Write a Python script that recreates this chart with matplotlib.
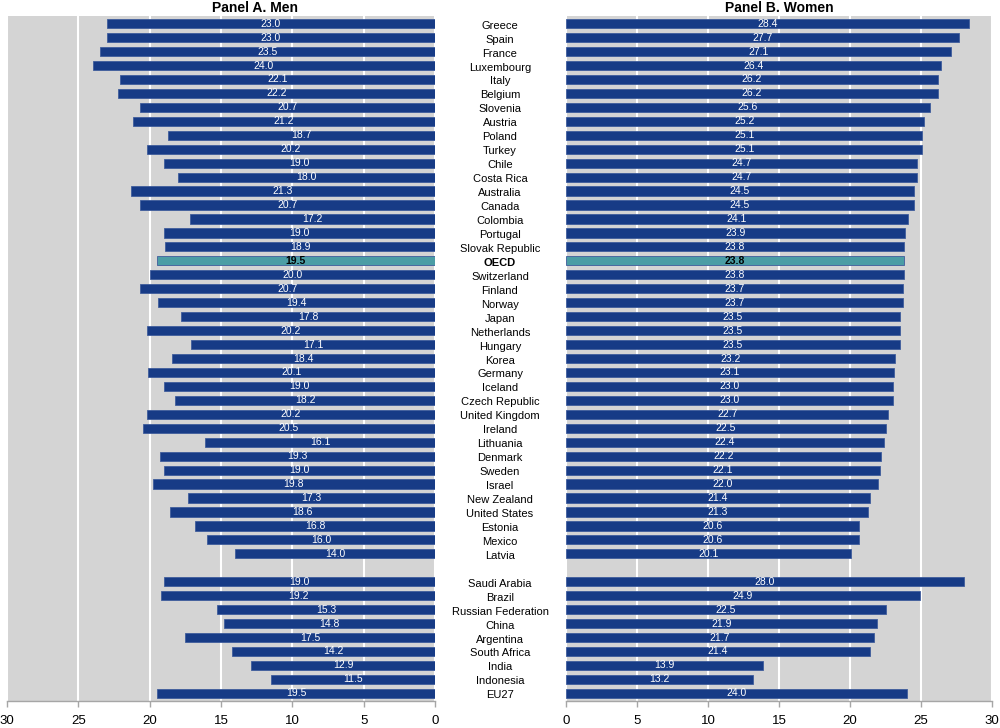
import matplotlib
matplotlib.use('Agg')
import matplotlib.pyplot as plt
from matplotlib.transforms import blended_transform_factory, ScaledTranslation

countries = ["Greece", "Spain", "France", "Luxembourg", "Italy", "Belgium", "Slovenia",
             "Austria", "Poland", "Turkey", "Chile", "Costa Rica", "Australia", "Canada",
             "Colombia", "Portugal", "Slovak Republic", "OECD", "Switzerland", "Finland",
             "Norway", "Japan", "Netherlands", "Hungary", "Korea", "Germany", "Iceland",
             "Czech Republic", "United Kingdom", "Ireland", "Lithuania", "Denmark", "Sweden",
             "Israel", "New Zealand", "United States", "Estonia", "Mexico", "Latvia",
             "Saudi Arabia", "Brazil", "Russian Federation", "China", "Argentina",
             "South Africa", "India", "Indonesia", "EU27"]
men = [23.0, 23.0, 23.5, 24.0, 22.1, 22.2, 20.7, 21.2, 18.7, 20.2, 19.0, 18.0, 21.3, 20.7,
       17.2, 19.0, 18.9, 19.5, 20.0, 20.7, 19.4, 17.8, 20.2, 17.1, 18.4, 20.1, 19.0, 18.2,
       20.2, 20.5, 16.1, 19.3, 19.0, 19.8, 17.3, 18.6, 16.8, 16.0, 14.0,
       19.0, 19.2, 15.3, 14.8, 17.5, 14.2, 12.9, 11.5, 19.5]
women = [28.4, 27.7, 27.1, 26.4, 26.2, 26.2, 25.6, 25.2, 25.1, 25.1, 24.7, 24.7, 24.5, 24.5,
         24.1, 23.9, 23.8, 23.8, 23.8, 23.7, 23.7, 23.5, 23.5, 23.5, 23.2, 23.1, 23.0, 23.0,
         22.7, 22.5, 22.4, 22.2, 22.1, 22.0, 21.4, 21.3, 20.6, 20.6, 20.1,
         28.0, 24.9, 22.5, 21.9, 21.7, 21.4, 13.9, 13.2, 24.0]
gap_after = "Latvia"
highlight = "OECD"
ticks = [0, 5, 10, 15, 20, 25, 30]

BLUE = '#173B86'
TEAL = '#4B9DA5'
BG = '#D4D4D4'
AXC = '#A6A6A6'
narrow = ['Liberation Sans Narrow', 'Liberation Sans', 'DejaVu Sans']
plt.rcParams['font.family'] = ['Liberation Sans', 'DejaVu Sans']

gap_idx = countries.index(gap_after) + 1
ypos = [i + (1 if i >= gap_idx else 0) for i in range(len(countries))]
nrows = len(countries) + 1

fig = plt.figure(figsize=(10, 7.28), dpi=100)
H = 728.0
axL = fig.add_axes([0.007, 27 / H, 0.428, 685 / H])
axR = fig.add_axes([0.566, 27 / H, 0.426, 685 / H])

for ax, vals, xl in ((axL, men, (30, 0)), (axR, women, (0, 30))):
    ax.set_facecolor(BG)
    colors = [TEAL if c == highlight else BLUE for c in countries]
    ax.barh(ypos, vals, height=0.66, color=colors, edgecolor='#3F5C9C',
            linewidth=0.6, zorder=3)
    for y, v, c in zip(ypos, vals, countries):
        if c == highlight:
            ax.text(v / 2, y, f"{v:.1f}", ha='center', va='center', fontsize=7.5,
                    color='black', weight='bold', family=narrow, zorder=4)
        else:
            ax.text(v / 2, y, f"{v:.1f}", ha='center', va='center', fontsize=7.5,
                    color='white', family=narrow, zorder=4)
    ax.set_xlim(*xl)
    ax.set_ylim(nrows - 1 + 0.55, -0.55)
    ax.set_xticks(ticks)
    ax.set_xticklabels([str(t) for t in ticks])
    ax.set_yticks([])
    ax.grid(axis='x', color='white', linewidth=1.5, zorder=1)
    ax.set_axisbelow(True)
    for s in ('top', 'left', 'right'):
        ax.spines[s].set_visible(False)
    ax.spines['bottom'].set_color(AXC)
    ax.spines['bottom'].set_linewidth(1.0)
    ax.tick_params(axis='x', direction='out', length=4, width=1, color=AXC,
                   labelsize=9.5, pad=6, labelcolor='black')

trans = blended_transform_factory(fig.transFigure, axR.transData) + \
    ScaledTranslation(0, -2 / 100, fig.dpi_scale_trans)
for y, c in zip(ypos, countries):
    fig.text(0.5, y, c, transform=trans, ha='center', va='center', fontsize=8,
             family=narrow, weight='bold' if c == highlight else 'normal')

fig.text(0.255, 1 - 8 / H, "Panel A. Men", ha='center', va='center', fontsize=10,
         weight='bold')
fig.text(0.779, 1 - 8 / H, "Panel B. Women", ha='center', va='center', fontsize=10,
         weight='bold')

fig.savefig('out.png', dpi=100, facecolor='white')
